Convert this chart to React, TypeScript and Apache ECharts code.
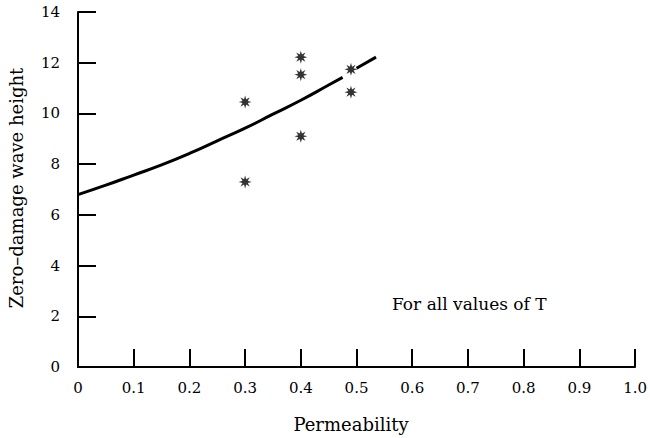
import React, { useEffect, useRef } from "react";
import * as echarts from "echarts";

const xTicks = [0, 0.1, 0.2, 0.3, 0.4, 0.5, 0.6, 0.7, 0.8, 0.9, 1.0];
const yTicks = [0, 2, 4, 6, 8, 10, 12, 14];
const obsPermeability = [0.3, 0.3, 0.4, 0.4, 0.4, 0.49, 0.49];
const obsHeight = [10.45, 7.3, 12.22, 11.53, 9.1, 11.74, 10.84];
const curveX = [0, 0.05, 0.1, 0.15, 0.2, 0.25, 0.3, 0.35, 0.4, 0.45, 0.475];
const curveY = [6.8, 7.17, 7.57, 7.97, 8.42, 8.92, 9.42, 9.97, 10.52, 11.12, 11.42];
const extX = [0.5, 0.535];
const extY = [11.78, 12.22];

const xTitle = "Permeability";
const yTitle = "Zero\u2013damage wave height";
const note = "For all values of T";

const FONT = "DejaVu Serif";

function asteriskPath(): string {
  const parts: string[] = [];
  for (let i = 0; i < 16; i++) {
    const a = (i * Math.PI) / 8 - Math.PI / 2;
    const r = i % 2 === 0 ? 10 : 4.4;
    const x = (10 + r * Math.cos(a)).toFixed(2);
    const y = (10 + r * Math.sin(a)).toFixed(2);
    parts.push((i === 0 ? "M" : "L") + x + " " + y);
  }
  return "path://" + parts.join(" ") + " Z";
}

export default function App() {
  const ref = useRef<HTMLDivElement>(null);
  useEffect(() => {
    if (!ref.current) return;
    const chart = echarts.init(ref.current, undefined, { renderer: "svg" });
    const axisCommon = {
      type: "value" as const,
      axisLine: { show: true, lineStyle: { color: "#000", width: 2 } },
      axisTick: { show: true, inside: true, length: 18, lineStyle: { color: "#000", width: 2 } },
      splitLine: { show: false },
    };
    chart.setOption({
      animation: false,
      backgroundColor: "#fff",
      grid: { left: 78, right: 12, top: 12, bottom: 71, containLabel: false },
      xAxis: {
        ...axisCommon,
        min: 0,
        max: 1,
        interval: 0.1,
        axisLabel: {
          color: "#000",
          fontFamily: FONT,
          fontSize: 15,
          margin: 13,
          formatter: (v: number) => {
            const t = xTicks.find((k) => Math.abs(k - v) < 1e-6);
            return t === 0 ? "0" : (t ?? v).toFixed(1);
          },
        },
      },
      yAxis: {
        ...axisCommon,
        min: 0,
        max: 14,
        interval: 2,
        axisLabel: {
          color: "#000",
          fontFamily: FONT,
          fontSize: 15,
          margin: 18,
          formatter: (v: number) => String(yTicks.find((k) => k === v) ?? v),
        },
      },
      graphic: [
        {
          type: "text",
          x: 16,
          y: 188,
          rotation: Math.PI / 2,
          style: {
            text: yTitle,
            fill: "#000",
            font: `18px "${FONT}"`,
            align: "center",
            verticalAlign: "middle",
          },
        },
        {
          type: "text",
          x: 351,
          y: 424,
          style: {
            text: xTitle,
            fill: "#000",
            font: `18px "${FONT}"`,
            align: "center",
            verticalAlign: "middle",
          },
        },
        {
          type: "text",
          x: 392,
          y: 304,
          style: {
            text: note,
            fill: "#000",
            font: `17px "${FONT}"`,
            align: "left",
            verticalAlign: "middle",
          },
        },
      ],
      series: [
        {
          type: "line",
          data: curveX.map((x, i) => [x, curveY[i]]),
          smooth: true,
          showSymbol: false,
          lineStyle: { color: "#000", width: 3 },
        },
        {
          type: "line",
          data: extX.map((x, i) => [x, extY[i]]),
          showSymbol: false,
          lineStyle: { color: "#000", width: 3 },
        },
        {
          type: "scatter",
          data: obsPermeability.map((x, i) => [x, obsHeight[i]]),
          symbol: asteriskPath(),
          symbolSize: 13,
          itemStyle: { color: "#000" },
        },
      ],
    });
    return () => chart.dispose();
  }, []);
  return <div ref={ref} style={{ width: 650, height: 438, position: "absolute", left: 0, top: 0 }} />;
}
